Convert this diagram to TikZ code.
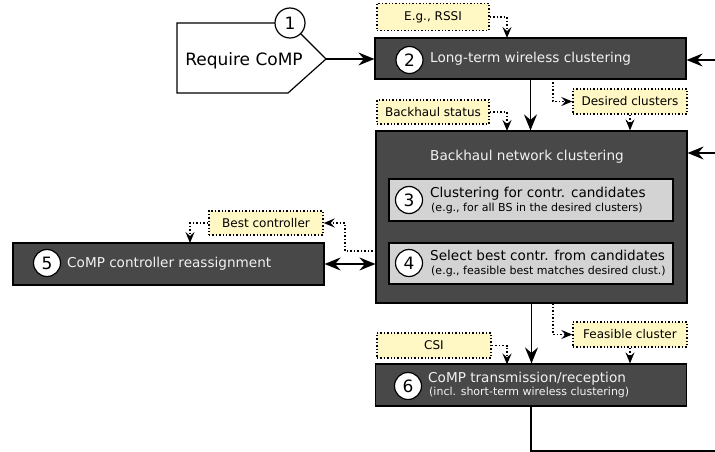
\documentclass[tikz,border=0pt]{standalone}
\usepackage{fontspec}
\setmainfont{DejaVu Sans}
\usetikzlibrary{arrows.meta}

\definecolor{boxdark}{HTML}{484848}
\definecolor{boxlight}{HTML}{D3D3D3}
\definecolor{notefill}{HTML}{FFF7C4}
\definecolor{boxtext}{HTML}{F2F2F2}

\begin{document}
\begin{tikzpicture}[x=1pt,y=-1pt,
  darkbox/.style={draw=black, fill=boxdark, line width=1.2pt, inner sep=0pt},
  lightbox/.style={draw=black, fill=boxlight, line width=1.2pt, inner sep=0pt},
  note/.style={draw=black, fill=notefill, dotted, line width=1.4pt, inner sep=0pt,
    font=\fontsize{12}{14}\selectfont},
  numcirc/.style={circle, draw=black, fill=white, line width=1.2pt, minimum size=27pt,
    inner sep=0pt, font=\fontsize{17}{17}\selectfont},
  maintext/.style={anchor=base west, inner sep=0pt, font=\fontsize{13.6}{16}\selectfont},
  subtext/.style={anchor=base west, inner sep=0pt, font=\fontsize{11}{13}\selectfont},
  flow/.style={line width=1.8pt, -{Stealth[length=16pt,width=13pt,inset=5.5pt]}},
  twoway/.style={line width=1.8pt, {Stealth[length=16pt,width=13pt,inset=5.5pt]}-{Stealth[length=16pt,width=13pt,inset=5.5pt]}},
  hint/.style={dotted, line width=1.5pt, -{Stealth[length=11pt,width=9pt,inset=4pt]}},
]
\useasboundingbox (0,0) rectangle (715,452);

% step 1: trigger
\draw[line width=1.2pt, fill=white] (177,23) -- (290,23) -- (326,59) -- (288,93) -- (177,93) -- cycle;
\node[inner sep=0pt, anchor=base, font=\fontsize{17}{17}\selectfont] (req) at (244,66) {Require CoMP};
\node[numcirc, minimum size=30pt] (c1) at (290,23) {1};
\coordinate (reqtip) at (326,59);

% main process boxes
\node[darkbox, minimum width=311pt, minimum height=41pt] (b2) at (530.5,58.5) {};
\node[darkbox, minimum width=311pt, minimum height=172pt] (bh) at (531.5,217) {};
\node[lightbox, minimum width=284pt, minimum height=42pt] (b3) at (531,200) {};
\node[lightbox, minimum width=284pt, minimum height=41pt] (b4) at (531,263.5) {};
\node[darkbox, minimum width=311pt, minimum height=42pt] (b5) at (168.5,264) {};
\node[darkbox, minimum width=311pt, minimum height=42pt] (b6) at (531,385) {};

% numbers
\node[numcirc] (c2) at (409.5,60) {2};
\node[numcirc] (c3) at (409,200) {3};
\node[numcirc] (c4) at (409,263) {4};
\node[numcirc] (c5) at (47,263) {5};
\node[numcirc] (c6) at (408,386) {6};

% labels
\node[maintext, text=boxtext] (t2) at (430,63) {Long-term wireless clustering};
\node[inner sep=0pt, anchor=base, text=boxtext, font=\fontsize{13.6}{16}\selectfont] (th) at (527,160) {Backhaul network clustering};
\node[maintext] (t3) at (430,197) {Clustering for contr. candidates};
\node[subtext] (s3) at (431,211) {(e.g., for all BS in the desired clusters)};
\node[maintext] (t4) at (430,260) {Select best contr. from candidates};
\node[subtext] (s4) at (431,274) {(e.g., feasible best matches desired clust.)};
\node[maintext, text=boxtext] (t5) at (67,267) {CoMP controller reassignment};
\node[maintext, text=boxtext] (t6) at (428,382) {CoMP transmission/reception};
\node[subtext, text=boxtext] (s6) at (429,395) {(incl. short-term wireless clustering)};

% side information
\node[note, minimum width=112pt, minimum height=27pt] (rssi) at (433,17) {E.g., RSSI};
\node[note, minimum width=112pt, minimum height=24pt] (bstat) at (433,112) {Backhaul status};
\node[note, minimum width=114pt, minimum height=25pt] (desired) at (630,101.5) {Desired clusters};
\node[note, minimum width=114pt, minimum height=24pt] (best) at (266,223) {Best controller};
\node[note, minimum width=114pt, minimum height=25pt] (csi) at (434,345.5) {CSI};
\node[note, minimum width=114pt, minimum height=25pt] (feas) at (630,334.5) {Feasible cluster};

% connector ends
\coordinate (k1) at (507,38);
\coordinate (k2) at (507,131);
\coordinate (k3) at (553,79);
\coordinate (k4) at (507,364.5);
\coordinate (k5) at (553,303);
\coordinate (k6) at (376,251);
\coordinate (k7) at (190,243);
\coordinate (inA) at (720,60);
\coordinate (inB) at (720,153);
\coordinate (outC) at (720,451);

% main flow
\draw[flow] (reqtip) -- (b2.west |- reqtip);
\draw[flow] (b2.south) -- (b2.south |- bh.north);
\draw[flow] (bh.south) -- (bh.south |- b6.north);
\draw[twoway] (b5.east) -- (bh.west |- b5.east);
\draw[flow] (inA) -- (b2.east |- inA);
\draw[flow] (inB) -- (bh.east |- inB);
\draw[line width=1.8pt] (b6.south) |- (outC);

% dotted information flow
\draw[hint] (rssi.east) -| (k1);
\draw[hint] (bstat.east) -| (k2);
\draw[hint] (k3) |- (desired.west);
\draw[hint] (desired.south) -- (desired.south |- bh.north);
\draw[hint] (csi.east) -| (k4);
\draw[hint] (k5) |- (feas.west);
\draw[hint] (feas.south) -- (feas.south |- b6.north);
\draw[hint] (k6) -- ++(-31,0) |- (best.east);
\draw[hint] (best.west) -| (k7);
\end{tikzpicture}
\end{document}
